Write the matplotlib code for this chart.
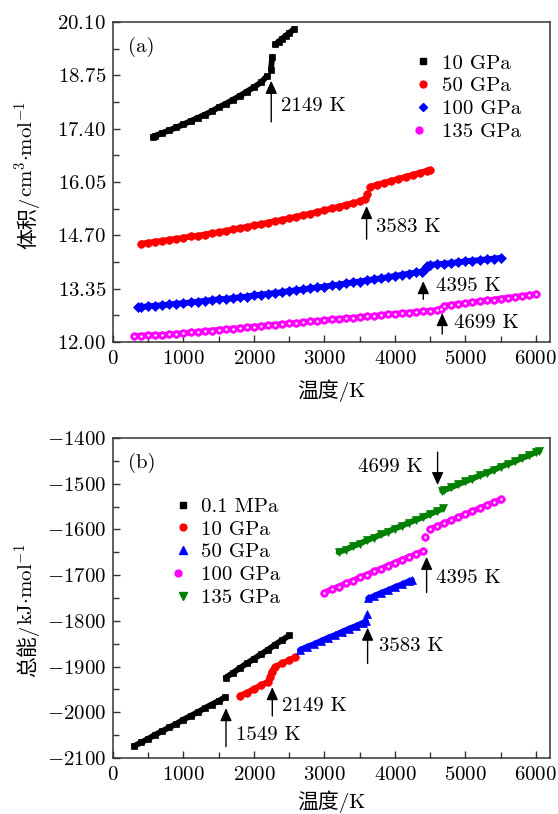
import matplotlib
matplotlib.use("Agg")
import matplotlib.pyplot as plt
from matplotlib.lines import Line2D
from matplotlib.ticker import FixedLocator, MultipleLocator, FuncFormatter
from matplotlib.legend_handler import HandlerTuple

plt.rcParams['font.family'] = ['cmr10', 'Noto Sans CJK SC', 'DejaVu Serif']
plt.rcParams['mathtext.fontset'] = 'cm'
plt.rcParams['axes.unicode_minus'] = False

# ---------------- (a) volume vs temperature ----------------
a10_T1 = [570, 600, 700, 800, 900, 1000, 1100, 1200, 1300, 1400, 1500, 1600, 1700, 1800, 1900, 2000, 2100, 2180]
a10_V1 = [17.20, 17.22, 17.29, 17.36, 17.43, 17.51, 17.59, 17.67, 17.75, 17.84, 17.94, 18.03, 18.13, 18.23, 18.34, 18.45, 18.57, 18.72]
a10_Tj = [2240, 2260]
a10_Vj = [18.89, 19.22]
a10_T2 = [2300, 2350, 2400, 2450, 2500, 2570]
a10_V2 = [19.53, 19.60, 19.68, 19.75, 19.82, 19.92]

a50_T1 = [400, 500, 600, 700, 800, 900, 1000, 1100, 1200, 1300, 1400, 1500, 1600, 1700, 1800, 1900, 2000,
          2100, 2200, 2300, 2400, 2500, 2600, 2700, 2800, 2900, 3000, 3100, 3200, 3300, 3400, 3500, 3570]
a50_V1 = [14.49, 14.51, 14.54, 14.56, 14.59, 14.61, 14.64, 14.67, 14.69, 14.72, 14.75, 14.78, 14.81, 14.85, 14.88, 14.91, 14.95,
          14.98, 15.02, 15.06, 15.09, 15.13, 15.17, 15.21, 15.25, 15.29, 15.33, 15.38, 15.42, 15.47, 15.51, 15.56, 15.62]
a50_Tj = [3600]
a50_Vj = [15.74]
a50_T2 = [3650, 3750, 3850, 3950, 4050, 4150, 4250, 4350, 4450, 4500]
a50_V2 = [15.93, 15.98, 16.03, 16.08, 16.13, 16.18, 16.23, 16.28, 16.33, 16.35]

a100_T1 = [350, 400, 500, 600, 700, 800, 900, 1000, 1100, 1200, 1300, 1400, 1500, 1600, 1700, 1800, 1900, 2000,
           2100, 2200, 2300, 2400, 2500, 2600, 2700, 2800, 2900, 3000, 3100, 3200, 3300, 3400, 3500, 3600, 3700,
           3800, 3900, 4000, 4100, 4200, 4300, 4380, 4420, 4460]
a100_V1 = [12.88, 12.89, 12.90, 12.92, 12.93, 12.95, 12.97, 12.98, 13.00, 13.02, 13.04, 13.06, 13.08, 13.09, 13.11, 13.13, 13.15, 13.18,
           13.20, 13.22, 13.24, 13.26, 13.29, 13.31, 13.33, 13.36, 13.38, 13.40, 13.43, 13.45, 13.48, 13.51, 13.53, 13.56, 13.59,
           13.61, 13.64, 13.67, 13.70, 13.73, 13.76, 13.78, 13.85, 13.92]
a100_T2 = [4500, 4600, 4700, 4800, 4900, 5000, 5100, 5200, 5300, 5400, 5500]
a100_V2 = [13.95, 13.97, 13.98, 14.00, 14.02, 14.04, 14.06, 14.07, 14.09, 14.11, 14.13]

a135_T = [300, 400, 500, 600, 700, 800, 900, 1000, 1100, 1200, 1300, 1400, 1500, 1600, 1700, 1800, 1900, 2000,
          2100, 2200, 2300, 2400, 2500, 2600, 2700, 2800, 2900, 3000, 3100, 3200, 3300, 3400, 3500, 3600, 3700,
          3800, 3900, 4000, 4100, 4200, 4300, 4400, 4500, 4600, 4650, 4700, 4800, 4900, 5000, 5100, 5200, 5300,
          5400, 5500, 5600, 5700, 5800, 5900, 6000]
a135_V = [12.15, 12.16, 12.17, 12.18, 12.17, 12.19, 12.21, 12.22, 12.24, 12.26, 12.27, 12.29, 12.31, 12.32, 12.34, 12.35, 12.37, 12.39,
          12.40, 12.42, 12.44, 12.45, 12.47, 12.48, 12.50, 12.52, 12.53, 12.55, 12.57, 12.58, 12.60, 12.61, 12.63, 12.65, 12.66,
          12.68, 12.70, 12.71, 12.73, 12.74, 12.76, 12.78, 12.79, 12.81, 12.84, 12.92, 12.94, 12.96, 12.98, 13.01, 13.03, 13.05,
          13.07, 13.10, 13.12, 13.14, 13.16, 13.19, 13.21]

a_yticks = [12.00, 13.35, 14.70, 16.05, 17.40, 18.75, 20.10]
a_labels = ["10 GPa", "50 GPa", "100 GPa", "135 GPa"]
# (label, arrow tip, arrow tail, text position)
a_notes = [("2149 K", (2245, 18.61), (2245, 17.57), (2383, 17.97)),
           ("3583 K", (3598, 15.44), (3598, 14.60), (3730, 14.90)),
           ("4395 K", (4402, 13.54), (4402, 13.08), (4577, 13.42)),
           ("4699 K", (4671, 12.73), (4671, 12.20), (4837, 12.47))]

# ---------------- (b) total energy vs temperature ----------------
b01_T1 = [300, 400, 500, 600, 700, 800, 900, 1000, 1100, 1200, 1300, 1400, 1500, 1590]
b01_E1 = [-2074, -2066, -2058, -2049, -2041, -2033, -2025, -2016, -2008, -2000, -1991, -1983, -1975, -1967]
b01_T2 = [1600, 1700, 1800, 1900, 2000, 2100, 2200, 2300, 2400, 2500]
b01_E2 = [-1924, -1914, -1903, -1893, -1883, -1873, -1863, -1852, -1842, -1832]

b10_T = [1800, 1900, 2000, 2100, 2200, 2230, 2250, 2300, 2400, 2500, 2580]
b10_E = [-1964, -1957, -1949, -1941, -1933, -1922, -1911, -1900, -1893, -1886, -1880]

b50_T1 = [2650, 2750, 2850, 2950, 3050, 3150, 3250, 3350, 3450, 3550, 3590]
b50_E1 = [-1864, -1857, -1851, -1844, -1837, -1831, -1824, -1817, -1811, -1804, -1801]
b50_Tj = [3600]
b50_Ej = [-1786]
b50_T2 = [3620, 3700, 3800, 3900, 4000, 4100, 4200, 4240]
b50_E2 = [-1751, -1746, -1739, -1733, -1726, -1720, -1713, -1711]

b100_T1 = [3000, 3100, 3200, 3300, 3400, 3500, 3600, 3700, 3800, 3900, 4000, 4100, 4200, 4300, 4400]
b100_E1 = [-1738, -1731, -1725, -1718, -1712, -1705, -1699, -1692, -1686, -1679, -1673, -1666, -1660, -1654, -1647]
b100_Tj = [4430]
b100_Ej = [-1617]
b100_T2 = [4500, 4600, 4700, 4800, 4900, 5000, 5100, 5200, 5300, 5400, 5500]
b100_E2 = [-1599, -1593, -1586, -1580, -1573, -1567, -1560, -1554, -1547, -1541, -1534]

b135_T1 = [3200, 3300, 3400, 3500, 3600, 3700, 3800, 3900, 4000, 4100, 4200, 4300, 4400, 4500, 4600, 4680]
b135_E1 = [-1650, -1644, -1637, -1631, -1624, -1618, -1611, -1605, -1598, -1592, -1585, -1579, -1573, -1566, -1560, -1554]
b135_T2 = [4670, 4700, 4800, 4900, 5000, 5100, 5200, 5300, 5400, 5500, 5600, 5700, 5800, 5900, 6000, 6050]
b135_E2 = [-1516, -1514, -1508, -1501, -1495, -1489, -1482, -1476, -1470, -1463, -1457, -1451, -1444, -1438, -1431, -1428]

b_labels = ["0.1 MPa", "10 GPa", "50 GPa", "100 GPa", "135 GPa"]
b_notes = [("1549 K", (1603, -1991), (1603, -2075), (1745, -2050), "left"),
           ("2149 K", (2260, -1945), (2260, -2008), (2402, -1986), "left"),
           ("3583 K", (3612, -1815), (3612, -1893), (3777, -1856), "left"),
           ("4395 K", (4449, -1660), (4449, -1738), (4582, -1706), "left"),
           ("4699 K", (4605, -1503), (4605, -1431), (4402, -1463), "right")]

FS = 15


def draw(ax, segs, color, marker, ms, sphere=False):
    for T, V in segs:
        ax.plot(T, V, '-', color=color, lw=4.2, marker=marker, ms=ms,
                mfc=color, mec=color, mew=0.5, solid_capstyle='round')
        if sphere:
            ax.plot(T, V, ls='none', marker='o', ms=1.8, color='white', mew=0)
    h = Line2D([], [], ls='none', marker=marker, ms=ms * 0.9, color=color)
    if sphere:
        return (h, Line2D([], [], ls='none', marker='o', ms=1.6, color='white', mew=0))
    return h


def style(ax):
    ax.set_xlim(0, 6200)
    ax.xaxis.set_major_locator(MultipleLocator(1000))
    ax.xaxis.set_minor_locator(MultipleLocator(500))
    ax.xaxis.set_major_formatter(FuncFormatter(lambda v, p: f"${v:.0f}$"))
    ax.tick_params(which='both', direction='in', top=False, right=False, labelsize=FS, color='#333333')
    ax.tick_params(which='major', length=5, width=1)
    ax.tick_params(which='minor', length=4, width=1)
    ax.tick_params(axis='x', pad=6)
    ax.tick_params(axis='y', pad=5)
    for s in ax.spines.values():
        s.set_linewidth(1.1)
        s.set_color('#333333')
    ax.set_xlabel("温度/K", fontsize=FS, va='center')


def ylabel(ax, cjk, unit, split):
    # Chinese part in plain text, unit in mathtext, joined at `split`
    kw = dict(transform=ax.transAxes, rotation=90, rotation_mode='anchor', va='baseline', fontsize=FS)
    ax.text(-0.181, split, cjk, ha='right', **kw)
    ax.text(-0.181, split, unit, ha='left', **kw)


def legend(ax, handles, labels, anchor):
    ax.legend(handles, labels, loc='upper left', bbox_to_anchor=anchor, frameon=False,
              fontsize=FS, handlelength=0.8, handletextpad=0.5, labelspacing=0.2,
              borderpad=0, borderaxespad=0, handler_map={tuple: HandlerTuple(ndivide=None)})


def note(ax, txt, tip, tail, pos, ha='left'):
    ax.annotate("", xy=tip, xytext=tail,
                arrowprops=dict(arrowstyle='-|>,head_length=0.55,head_width=0.25', color='black',
                                lw=1, shrinkA=0, shrinkB=0, mutation_scale=14))
    ax.text(pos[0], pos[1], txt, fontsize=FS, ha=ha, va='center')


fig = plt.figure(figsize=(5.58, 8.14), dpi=100)
ax1 = fig.add_axes([0.2025, 0.5799, 0.7832, 0.3931])
ax2 = fig.add_axes([0.2025, 0.0688, 0.7832, 0.3931])

# panel (a)
h = []
h.append(draw(ax1, [(a10_T1, a10_V1), (a10_Tj, a10_Vj), (a10_T2, a10_V2)], 'black', 's', 5))
h.append(draw(ax1, [(a50_T1, a50_V1), (a50_Tj, a50_Vj), (a50_T2, a50_V2)], 'red', 'o', 5.5))
h.append(draw(ax1, [(a100_T1, a100_V1), (a100_T2, a100_V2)], 'blue', 'D', 5))
h.append(draw(ax1, [(a135_T, a135_V)], '#ff00ff', 'o', 5.5, sphere=True))
style(ax1)
ax1.set_ylim(12.0, 20.1)
ax1.yaxis.set_major_locator(FixedLocator(a_yticks))
ax1.yaxis.set_minor_locator(FixedLocator([(a + b) / 2 for a, b in zip(a_yticks[:-1], a_yticks[1:])]))
ax1.yaxis.set_major_formatter(FuncFormatter(lambda v, p: f"${v:.2f}$"))
ylabel(ax1, "体积/", r"$\mathrm{cm}^{3}{\cdot}\mathrm{mol}^{-1}$", 0.453)
ax1.xaxis.set_label_coords(0.5, -0.153)
ax1.text(0.034, 0.923, "(a)", transform=ax1.transAxes, fontsize=FS, va='center', ha='left')
legend(ax1, h, a_labels, (0.69, 0.90))
for txt, tip, tail, pos in a_notes:
    note(ax1, txt, tip, tail, pos)

# panel (b)
h = []
h.append(draw(ax2, [(b01_T1, b01_E1), (b01_T2, b01_E2)], 'black', 's', 5))
h.append(draw(ax2, [(b10_T, b10_E)], 'red', 'o', 5.5))
h.append(draw(ax2, [(b50_T1, b50_E1), (b50_Tj, b50_Ej), (b50_T2, b50_E2)], 'blue', '^', 6))
h.append(draw(ax2, [(b100_T1, b100_E1), (b100_Tj, b100_Ej), (b100_T2, b100_E2)], '#ff00ff', 'o', 5.5, sphere=True))
h.append(draw(ax2, [(b135_T1, b135_E1), (b135_T2, b135_E2)], 'green', 'v', 6))
style(ax2)
ax2.set_ylim(-2100, -1400)
ax2.yaxis.set_major_locator(MultipleLocator(100))
ax2.yaxis.set_minor_locator(MultipleLocator(50))
ax2.yaxis.set_major_formatter(FuncFormatter(lambda v, p: f"${v:.0f}$"))
ylabel(ax2, "总能/", r"$\mathrm{kJ}{\cdot}\mathrm{mol}^{-1}$", 0.416)
ax2.xaxis.set_label_coords(0.5, -0.138)
ax2.text(0.035, 0.921, "(b)", transform=ax2.transAxes, fontsize=FS, va='center', ha='left')
legend(ax2, h, b_labels, (0.14, 0.815))
for txt, tip, tail, pos, ha in b_notes:
    note(ax2, txt, tip, tail, pos, ha)

fig.savefig("out.png", dpi=100)
